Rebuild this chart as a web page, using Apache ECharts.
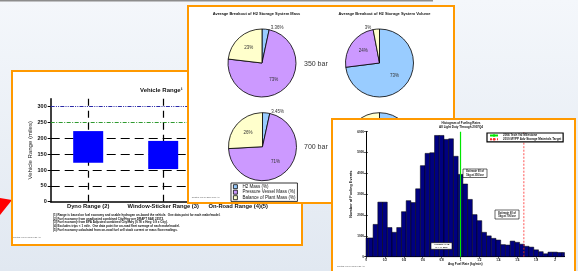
<!DOCTYPE html>
<html>
<head>
<meta charset="utf-8">
<script src="https://cdn.jsdelivr.net/npm/echarts@6/dist/echarts.min.js"></script>
<style>
html, body { margin: 0; padding: 0; }
#main { width: 578px; height: 271px; }
</style>
</head>
<body>
<div id="main"></div>
<script>
// vehicle range chart
const rangeCategories = ['Dyno Range (2)', 'Window-Sticker Range (3)', 'On-Road Range (4)(5)'];
const rangeLow = [123, 103, 135];
const rangeHigh = [223, 192, 190];
const rangeTicks = [0, 50, 100, 150, 200, 250, 300];
const rangeDashLines = [50, 100, 150, 200];
const rangeGreenLine = 250;
const rangeBlueLine = 300;

// H2 storage pies
const massNames = ['H2 Mass (%)', 'Pressure Vessel Mass (%)', 'Balance of Plant Mass (%)'];
const volumeNames = ['H2 Volume (%)', 'Pressure Vessel Volume (%)', 'Balance of Plant Volume (%)'];
const mass350 = [3.36, 73, 23];
const mass700 = [3.45, 71, 26];
const volume350 = [73, 24, 3];
const volume700 = [64, 24, 12];
const pieColors = ['#99ccff', '#cc99ff', '#ffffcc'];

// fueling rate histogram (bin centres, kg/min)
const fuelRateBins = [0, 0.05, 0.1, 0.15, 0.2, 0.25, 0.3, 0.35, 0.4, 0.45, 0.5, 0.55, 0.6, 0.65, 0.7,
    0.75, 0.8, 0.85, 0.9, 0.95, 1, 1.05, 1.1, 1.15, 1.2, 1.25, 1.3, 1.35, 1.4, 1.45, 1.5, 1.55, 1.6,
    1.65, 1.7, 1.75, 1.8, 1.85, 1.9, 1.95, 2, 2.05, 2.1];
const fuelingEvents = [900, 900, 1550, 2620, 2620, 1400, 1170, 1400, 2160, 2690, 2600, 3260, 4370,
    4960, 4990, 5820, 5820, 5630, 5660, 4820, 3950, 3490, 2750, 2020, 1730, 1170, 1000, 880, 800,
    580, 560, 750, 690, 600, 500, 460, 330, 240, 140, 220, 220, 200, 200];
const fuelRateTicks = [0, 0.2, 0.4, 0.6, 0.8, 1, 1.2, 1.4, 1.6, 1.8, 2];
const eventTicks = [0, 1000, 2000, 3000, 4000, 5000, 6000];
const techValMilestone = 1.0;
const storageTarget = 1.67;
const binHalf = 0.025;
const rateMax = 2.1;

const FONT = 'Liberation Sans, Arial, sans-serif';
const ORANGE = '#ff9900';
const plain = v => String(v);

function txt(x, y, text, size, o) {
    o = o || {};
    return {
        type: 'text', x: x, y: y, zlevel: o.zlevel || 0, z: o.z || 10, silent: true,
        style: {
            text: text, fontSize: size, fontFamily: FONT,
            fontWeight: o.bold ? 'bold' : 'normal',
            fill: o.color || '#111', align: o.align || 'left',
            verticalAlign: o.valign || 'middle', lineHeight: o.lineHeight,
        },
    };
}

function box(x, y, w, h, zlevel, z, style) {
    return { type: 'rect', zlevel: zlevel, z: z, silent: true, shape: { x: x, y: y, width: w, height: h }, style: style };
}

function pie(names, values, center, smallIdx) {
    return {
        type: 'pie', zlevel: 1, z: 2, radius: 34, center: center, silent: true,
        startAngle: 90, clockwise: true, avoidLabelOverlap: false, animation: false,
        label: {
            position: 'inside', fontSize: 4.5, color: '#333', fontFamily: FONT,
            formatter: p => p.value + '%',
        },
        labelLine: { show: false, length: 1.5, length2: 0 },
        itemStyle: { borderColor: '#000', borderWidth: 0.8 },
        data: values.map((v, i) => {
            const d = { name: names[i], value: v, itemStyle: { color: pieColors[i] } };
            if (i === smallIdx) d.label = { position: 'outside' };
            return d;
        }),
    };
}

const chart = echarts.init(document.getElementById('main'));

const graphics = [
    // slide background
    box(0, 0, 578, 271, 0, -20, {
        fill: new echarts.graphic.LinearGradient(0, 0, 0, 1, [
            { offset: 0, color: '#f4f7fb' }, { offset: 1, color: '#e1e8f1' }]),
    }),
    box(0, 0, 433, 1.6, 0, -19, { fill: '#8c8c8c' }),
    { type: 'polygon', zlevel: 0, z: -18, silent: true, shape: { points: [[0, 198], [12, 200], [0, 215]] }, style: { fill: '#ff0000' } },

    // vehicle range frame
    box(12, 71, 290, 174, 0, -10, { fill: '#fff', stroke: ORANGE, lineWidth: 2 }),
    txt(140, 90.7, 'Vehicle Range¹', 6, { bold: true }),
    txt(53, 213, '(1) Range is based on fuel economy and usable hydrogen on-board the vehicle.  One data point for each make/model.\n' +
        '(2) Fuel economy from unadjusted combined City/Hwy per DRAFT SAE J2572.\n' +
        '(3) Fuel economy from EPA Adjusted combined City/Hwy (0.78 x Hwy, 0.9 x City).\n' +
        '(4) Excludes trips < 1 mile.  One data point for on-road fleet average of each make/model.\n' +
        '(5) Fuel economy calculated from on-road fuel cell stack current or mass flow readings.',
        3, { bold: true, valign: 'top', lineHeight: 3.8 }),
    txt(13, 237.7, 'Created: Feb-19-2010 7:27 AM', 2, { color: '#555' }),

    // pie frame
    box(188, 6, 266, 197, 1, -10, { fill: '#fff', stroke: ORANGE, lineWidth: 2 }),
    txt(256.5, 13.5, 'Average Breakout of H2 Storage System Mass', 4, { zlevel: 1, bold: true, align: 'center' }),
    txt(384.5, 13.5, 'Average Breakout of H2 Storage System Volume', 4, { zlevel: 1, bold: true, align: 'center' }),
    txt(304, 64, '350 bar', 7, { zlevel: 1, color: '#333' }),
    txt(304, 147, '700 bar', 7, { zlevel: 1, color: '#333' }),
    txt(191.7, 197.3, 'Created: Feb-19-2010 7:27 AM', 2, { zlevel: 1, color: '#555' }),

    // histogram frame
    box(332, 119, 243, 160, 2, -10, { fill: '#fff', stroke: ORANGE, lineWidth: 2 }),
    txt(461, 122.7, 'Histogram of Fueling Rates', 3, { zlevel: 2, bold: true, align: 'center' }),
    txt(461, 126.7, 'All Light Duty Through 2007Q4', 3, { zlevel: 2, bold: true, align: 'center' }),
    box(463, 169, 24, 8.5, 2, 20, { fill: '#fff', stroke: '#000', lineWidth: 0.6 }),
    txt(475, 173.3, 'Estimate fill of\n5kg at 350 bar', 2.6, { zlevel: 2, z: 21, bold: true, align: 'center', lineHeight: 3.2 }),
    box(495, 210, 24, 9, 2, 20, { fill: '#fff', stroke: '#000', lineWidth: 0.6 }),
    txt(507, 214.5, 'Estimate fill of\n5kg at 700 bar', 2.6, { zlevel: 2, z: 21, bold: true, align: 'center', lineHeight: 3.2 }),
    box(431, 242.7, 21, 6.6, 2, 20, { fill: '#fff', stroke: '#000', lineWidth: 0.6 }),
    txt(441.5, 246, 'Average: 0.78\n% > 1: 22%', 2.4, { zlevel: 2, z: 21, bold: true, align: 'center', lineHeight: 2.9 }),
    txt(337, 266, 'Created: Feb-19-2010 7:27 AM', 2, { zlevel: 2, color: '#555' }),
];

const rangeLines = rangeDashLines.map(v => ({ yAxis: v, lineStyle: { color: '#000', type: [9, 5], width: 1.2 } }))
    .concat([
        { yAxis: rangeGreenLine, lineStyle: { color: '#2f9a2f', type: [4, 1.5, 1, 1.5], width: 1 } },
        { yAxis: rangeBlueLine, lineStyle: { color: '#2a2aa8', type: [4, 1.2, 1, 1.2, 1, 1.2], width: 1 } },
    ])
    .concat(rangeCategories.map(c => ({ xAxis: c, lineStyle: { color: '#000', type: [7, 5], width: 1.2 } })));

const option = {
    animation: false,
    textStyle: { fontFamily: FONT },
    graphic: graphics,
    grid: [
        { left: 50.7, top: 98.8, width: 225, height: 102.9, zlevel: 0 },
        { left: 366, top: 131.7, width: 198.5, height: 125, zlevel: 2 },
    ],
    xAxis: [
        {
            gridIndex: 0, type: 'category', data: rangeCategories, zlevel: 0,
            axisLine: { lineStyle: { color: '#000', width: 1.5 } },
            axisTick: { show: false },
            axisLabel: { interval: 0, fontSize: 5.8, fontWeight: 'bold', color: '#111', margin: 2 },
        },
        {
            gridIndex: 1, type: 'value', min: 0, max: rateMax, zlevel: 2,
            axisLine: { lineStyle: { color: '#000', width: 1 } },
            axisTick: { inside: true, length: 2, customValues: fuelRateTicks, lineStyle: { color: '#000', width: 0.6 } },
            axisLabel: { customValues: fuelRateTicks, formatter: plain, fontSize: 3, fontWeight: 'bold', color: '#111', margin: 2 },
            splitLine: { show: false },
            name: 'Avg Fuel Rate (kg/min)', nameLocation: 'middle', nameGap: 6,
            nameTextStyle: { fontSize: 3.2, fontWeight: 'bold', color: '#111' },
        },
        {
            gridIndex: 1, type: 'value', position: 'top', min: 0, max: rateMax, zlevel: 2,
            axisLine: { lineStyle: { color: '#000', width: 1 } },
            axisTick: { inside: true, length: 2, customValues: fuelRateTicks, lineStyle: { color: '#000', width: 0.6 } },
            axisLabel: { show: false },
            splitLine: { show: false },
        },
    ],
    yAxis: [
        {
            gridIndex: 0, type: 'value', min: 0, max: 325, zlevel: 0,
            axisLine: { show: true, lineStyle: { color: '#000', width: 1.5 } },
            axisTick: { show: true, length: 3, customValues: rangeTicks, lineStyle: { color: '#000', width: 1 } },
            axisLabel: { customValues: rangeTicks, formatter: plain, fontSize: 5.5, fontWeight: 'bold', color: '#111', margin: 4 },
            splitLine: { show: false },
            name: 'Vehicle Range (miles)', nameLocation: 'middle', nameGap: 12,
            nameTextStyle: { fontSize: 6, color: '#222' },
        },
        {
            gridIndex: 1, type: 'value', min: 0, max: 6000, zlevel: 2,
            axisLine: { show: true, lineStyle: { color: '#000', width: 1 } },
            axisTick: { show: true, inside: true, length: 2, customValues: eventTicks, lineStyle: { color: '#000', width: 0.6 } },
            axisLabel: { customValues: eventTicks, formatter: plain, fontSize: 3, fontWeight: 'bold', color: '#111', margin: 2 },
            splitLine: { show: false },
            name: 'Number of Fueling Events', nameLocation: 'middle', nameGap: 9,
            nameTextStyle: { fontSize: 3.8, fontWeight: 'bold', color: '#111' },
        },
        {
            gridIndex: 1, type: 'value', position: 'right', min: 0, max: 6000, zlevel: 2,
            axisLine: { show: true, lineStyle: { color: '#000', width: 1 } },
            axisTick: { show: true, inside: true, length: 2, customValues: eventTicks, lineStyle: { color: '#000', width: 0.6 } },
            axisLabel: { show: false },
            splitLine: { show: false },
        },
    ],
    legend: [
        {
            zlevel: 1, z: 5, data: massNames, orient: 'vertical', left: 231, top: 183,
            itemWidth: 4, itemHeight: 4, itemGap: 0.5, itemTextGap: 2, padding: [1.2, 2],
            icon: 'rect', selectedMode: false,
            itemStyle: { borderColor: '#000', borderWidth: 0.8 },
            borderColor: '#000', borderWidth: 0.8, backgroundColor: '#fff',
            textStyle: { fontSize: 4.5, color: '#111', fontFamily: FONT },
        },
        {
            zlevel: 2, z: 6, data: ['2006 Tech Val Milestone', '2010 MYPP Adv Storage Materials Target'],
            orient: 'vertical', left: 487, top: 133,
            itemWidth: 8, itemHeight: 3, itemGap: 0.8, itemTextGap: 2, padding: [1, 2],
            selectedMode: false,
            borderColor: '#000', borderWidth: 1.2, backgroundColor: '#fff',
            textStyle: { fontSize: 3, fontWeight: 'bold', color: '#111', fontFamily: FONT },
        },
    ],
    series: [
        {
            type: 'bar', xAxisIndex: 0, yAxisIndex: 0, stack: 'range', zlevel: 0, z: 2,
            barWidth: 30, silent: true,
            itemStyle: { color: 'rgba(0,0,0,0)' },
            data: rangeLow,
            markLine: {
                silent: true, zlevel: 0, z: 1, symbol: ['none', 'none'],
                label: { show: false }, data: rangeLines,
            },
        },
        {
            type: 'bar', xAxisIndex: 0, yAxisIndex: 0, stack: 'range', zlevel: 0, z: 3,
            barWidth: 30, silent: true,
            itemStyle: { color: '#0000ff' },
            data: rangeHigh.map((h, i) => h - rangeLow[i]),
        },
        pie(massNames, mass350, [262, 63], 0),
        pie(massNames, mass700, [262.5, 146.7], 0),
        pie(volumeNames, volume350, [379.5, 63], 2),
        pie(volumeNames, volume700, [379.5, 146.7], -1),
        {
            type: 'custom', xAxisIndex: 1, yAxisIndex: 1, zlevel: 2, z: 2, silent: true,
            data: fuelRateBins.map((c, i) => [c, fuelingEvents[i]]),
            encode: { x: 0, y: 1 },
            renderItem: function (params, api) {
                const c = api.value(0), n = api.value(1);
                const lo = Math.max(c - binHalf, 0), hi = Math.min(c + binHalf, rateMax);
                const p0 = api.coord([lo, n]), p1 = api.coord([hi, 0]);
                return {
                    type: 'rect',
                    shape: { x: p0[0], y: p0[1], width: p1[0] - p0[0], height: p1[1] - p0[1] },
                    style: { fill: '#000080', stroke: '#000', lineWidth: 0.5 },
                };
            },
        },
        {
            name: '2006 Tech Val Milestone', type: 'line', xAxisIndex: 1, yAxisIndex: 1,
            zlevel: 2, z: 3, symbol: 'none', silent: true, color: '#00e600',
            lineStyle: { color: '#00e600', width: 1.2 },
            data: [[techValMilestone, 0], [techValMilestone, 6000]],
        },
        {
            name: '2010 MYPP Adv Storage Materials Target', type: 'line', xAxisIndex: 1, yAxisIndex: 1,
            zlevel: 2, z: 3, symbol: 'none', silent: true, color: '#ff2a2a',
            lineStyle: { color: '#ff2a2a', width: 0.8, type: [2, 1.5] },
            data: [[storageTarget, 0], [storageTarget, 6000]],
        },
    ],
};

chart.setOption(option);
</script>
</body>
</html>
